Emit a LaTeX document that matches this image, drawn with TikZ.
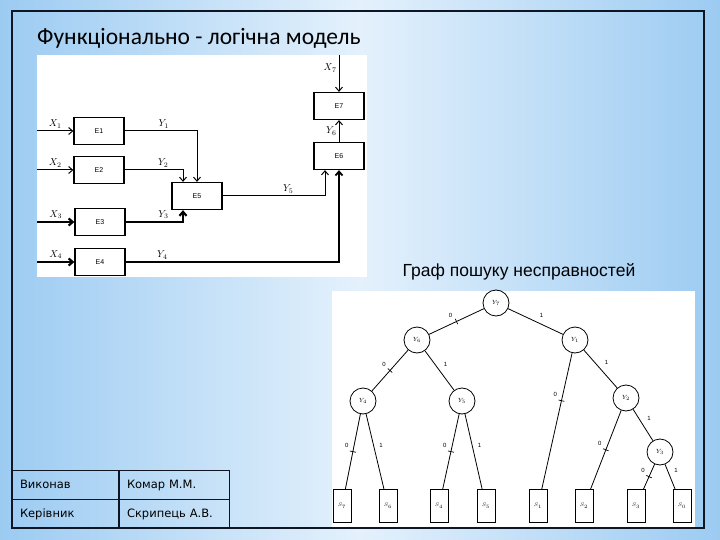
\documentclass[tikz,border=0pt]{standalone}
\usepackage{fontspec}
\setmainfont{Liberation Sans}
\newfontfamily\titlefont{Carlito}
\newfontfamily\tablefont{DejaVu Sans}
\usetikzlibrary{arrows.meta}
\definecolor{bgedge}{RGB}{156,203,242}
\definecolor{bgmid}{RGB}{228,241,252}
\definecolor{framecol}{RGB}{14,22,36}
\tikzset{
  elem/.style={draw, line width=1.3pt, minimum width=50pt, minimum height=27pt, inner sep=0pt, font=\fontsize{7}{7}\selectfont},
  sig/.style={line width=1pt, -{Straight Barb[length=4pt,width=7pt]}},
  bigsig/.style={sig, line width=2.2pt},
  siglbl/.style={font=\fontsize{10}{10}\selectfont, inner sep=2pt},
  test/.style={draw, circle, minimum size=26pt, inner sep=0pt, line width=0.8pt, font=\fontsize{6.5}{6.5}\selectfont},
  state/.style={draw, rectangle, minimum width=18pt, minimum height=33pt, inner sep=0pt, line width=0.8pt, font=\fontsize{5.5}{5.5}\selectfont},
  arc/.style={line width=0.8pt},
  bit/.style={auto, font=\fontsize{6}{6}\selectfont, inner sep=4pt},
  tick/.style={sloped, inner sep=0pt, anchor=center},
  cellbox/.style={draw=framecol, line width=1pt, minimum height=29pt, inner xsep=8pt, text height=9pt, text depth=3pt, align=left, font=\tablefont\fontsize{11.5}{12}\selectfont}
}
\newcommand{\zeroarc}[3][.5]{\draw[arc] (#2) -- node[tick,pos=#1]{\rule{0.7pt}{6pt}} node[bit,swap,pos=#1]{0} (#3);}
\newcommand{\onearc}[3][.5]{\draw[arc] (#2) -- node[bit,pos=#1]{1} (#3);}
\begin{document}
\begin{tikzpicture}[x=1pt,y=-1pt]
\useasboundingbox (0,0) rectangle (720,540);
% slide
\shade[left color=bgedge, right color=bgedge, middle color=bgmid] (0,0) rectangle (720,540);
\fill[white] (37,55) rectangle (367,277);
\fill[white] (332,291) rectangle (695,528);
\draw[framecol, line width=2pt] (12,11) rectangle (704,528);
\node[anchor=west, inner sep=0pt] (title) at (37,38) {\titlefont\fontsize{23.5}{23.5}\selectfont Функціонально - логічна модель};
\node[inner sep=0pt] (graphlbl) at (519,272) {\fontsize{17.5}{17.5}\selectfont Граф пошуку несправностей};

% elements
\node[elem] (E1) at (99,131) {E1};
\node[elem] (E2) at (99,170) {E2};
\node[elem] (E3) at (100,222) {E3};
\node[elem] (E4) at (100,262) {E4};
\node[elem] (E5) at (197,196) {E5};
\node[elem] (E6) at (339,156) {E6};
\node[elem] (E7) at (339,106) {E7};
\coordinate (x1) at (37,131);
\coordinate (x2) at (37,170);
\coordinate (x3) at (37,222);
\coordinate (x4) at (37,262);
\coordinate (x7) at (339,55);

% inputs
\draw[sig] (x1) -- node[siglbl,above]{$X_1$} (E1);
\draw[sig] (x2) -- node[siglbl,above]{$X_2$} (E2);
\draw[bigsig] (x3) -- node[siglbl,above]{$X_3$} (E3);
\draw[bigsig] (x4) -- node[siglbl,above]{$X_4$} (E4);
\draw[sig] (x7) -- node[siglbl,left,pos=.35]{$X_7$} (E7);

% outputs
\draw[sig] (E1.east) -| node[siglbl,above,pos=.27]{$Y_1$} (E5.north);
\draw[sig] (E2.east) -| node[siglbl,above,pos=.33]{$Y_2$} ([xshift=-14pt]E5.north);
\draw[bigsig] (E3.east) -| node[siglbl,above,pos=.33]{$Y_3$} ([xshift=-14pt]E5.south);
\draw[sig, line width=1.8pt] (E4.east) -| node[siglbl,above,pos=.086]{$Y_4$} (E6.south);
\draw[sig] (E5.east) -| node[siglbl,above,pos=.32]{$Y_5$} ([xshift=-14pt]E6.south);
\draw[sig] (E6) -- node[siglbl,left]{$Y_6$} (E7);

% tests
\node[test] (t7) at (496,303) {$Y_7$};
\node[test] (t6) at (417,340) {$Y_6$};
\node[test] (t1) at (575,340) {$Y_1$};
\node[test] (t4) at (363,401) {$Y_4$};
\node[test] (t5) at (462,401) {$Y_5$};
\node[test] (t2) at (626,398) {$Y_2$};
\node[test] (t3) at (660,452) {$Y_3$};

% states
\node[state] (s7) at (342,506) {$S_7$};
\node[state] (s6) at (388,506) {$S_6$};
\node[state] (s4) at (439,506) {$S_4$};
\node[state] (s5) at (486,506) {$S_5$};
\node[state] (s1) at (538,506) {$S_1$};
\node[state] (s2) at (584,506) {$S_2$};
\node[state] (s3) at (636,506) {$S_3$};
\node[state] (s0) at (682,506) {$S_0$};

% arcs
\zeroarc{t7}{t6}
\onearc{t7}{t1}
\zeroarc{t6}{t4}
\onearc{t6}{t5}
\zeroarc[.35]{t1}{s1}
\onearc{t1}{t2}
\zeroarc{t4}{s7}
\onearc{t4}{s6}
\zeroarc{t5}{s4}
\onearc{t5}{s5}
\zeroarc{t2}{s2}
\onearc{t2}{t3}
\zeroarc{t3}{s3}
\onearc{t3}{s0}

% table
\node[cellbox, text width=90pt] (who1) at (65,485) {Виконав};
\node[cellbox, text width=94pt] (name1) at (174,485) {Комар М.М.};
\node[cellbox, text width=90pt] (who2) at (65,514) {Керівник};
\node[cellbox, text width=94pt] (name2) at (174,514) {Скрипець А.В.};
\end{tikzpicture}
\end{document}
